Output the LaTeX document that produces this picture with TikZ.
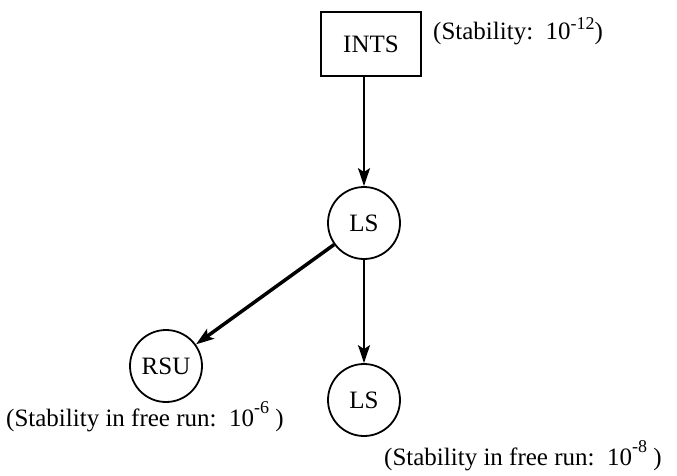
\documentclass[tikz,border=0pt]{standalone}
\usepackage{fontspec}
\setmainfont{Liberation Serif}
\usetikzlibrary{arrows.meta}
\newcommand\mysup[2]{\raisebox{#1}{\fontsize{18}{20}\selectfont #2}}
\begin{document}
\begin{tikzpicture}[x=1pt,y=-1pt,
  font=\fontsize{25}{29}\selectfont,
  circ/.style={draw, circle, line width=1.8pt, minimum size=72pt, inner sep=0pt},
  boxn/.style={draw, rectangle, line width=1.5pt, minimum width=100pt, minimum height=64pt, inner sep=0pt},
  arr/.style={-{Stealth[length=18pt,width=12pt,inset=4pt]}, line width=2pt},
  lbl/.style={anchor=base west, inner sep=0pt}]
\useasboundingbox (0,0) rectangle (677,475);
\node[boxn] (ints) at (371,44) {INTS};
\node[lbl] (s1) at (433,39) {(Stability:\enspace 10\mysup{0.4em}{-12})};
\node[circ] (ls1) at (364,223) {LS};
\node[circ] (rsu) at (166,366) {RSU};
\node[circ] (ls2) at (364,400) {LS};
\node[lbl] (s2) at (6,426) {(Stability in free run:\ \ 10\mysup{0.5em}{-6}\ )};
\node[lbl] (s3) at (384,465) {(Stability in free run:\ \ 10\mysup{0.5em}{-8}\ )};
\draw[arr] (ints.south -| ls1) -- (ls1);
\draw[arr, line width=3.5pt] (ls1) -- (rsu);
\draw[arr] (ls1) -- (ls2);
\end{tikzpicture}
\end{document}
